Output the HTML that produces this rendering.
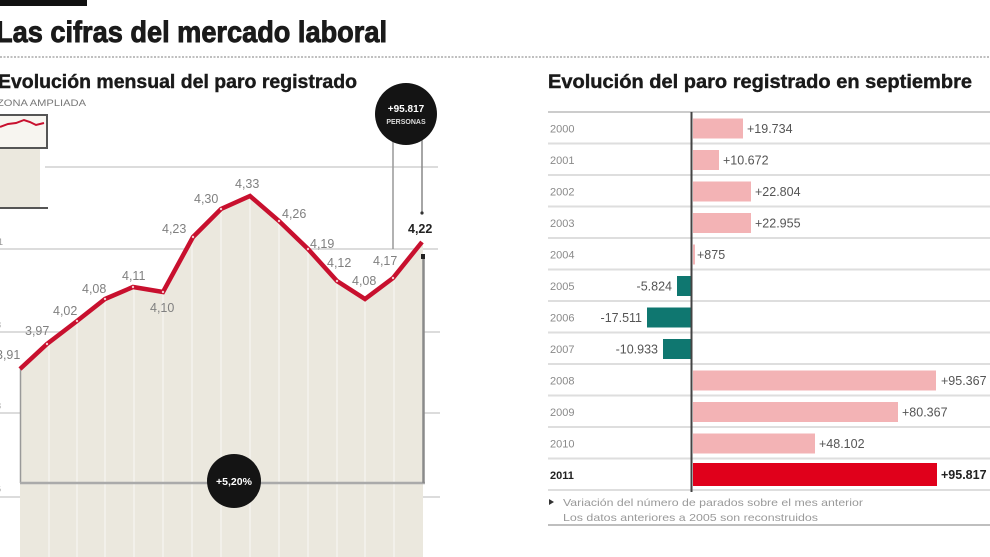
<!DOCTYPE html>
<html><head><meta charset="utf-8"><style>
html,body{margin:0;padding:0;background:#fff;}
svg{display:block;}
</style></head><body>
<svg width="990" height="557" viewBox="0 0 990 557" xmlns="http://www.w3.org/2000/svg" font-family="Liberation Sans, sans-serif">
<defs>
<clipPath id="fillclip"><polygon points="20,369 47,344 77,321 105,299 133,287 163,292 193,237 221,209 250,196 279,221 308,249 337,281 365,299 393,278 422,242 423,242 423,557 20,557"/></clipPath>
</defs>
<rect x="0" y="0" width="990" height="557" fill="#fff"/>
<rect x="0" y="0" width="87" height="6" fill="#111"/>
<text x="-4" y="42" font-size="30" font-weight="bold" fill="#1a1a1a" stroke="#1a1a1a" stroke-width="0.9" textLength="391" lengthAdjust="spacingAndGlyphs">Las cifras del mercado laboral</text>
<line x1="0" y1="57" x2="990" y2="57" stroke="#aaa" stroke-width="1.5" stroke-dasharray="2,1.5"/>
<text x="-2" y="88" font-size="19" font-weight="bold" fill="#1a1a1a" stroke="#1a1a1a" stroke-width="0.4" textLength="359" lengthAdjust="spacingAndGlyphs">Evolución mensual del paro registrado</text>
<text x="-3" y="106" font-size="9" fill="#777" textLength="89" lengthAdjust="spacingAndGlyphs">ZONA AMPLIADA</text>
<!-- inset -->
<rect x="0" y="148" width="40" height="59" fill="#ebe8de"/>
<rect x="-2" y="115" width="49" height="33" fill="#f7f5f0" stroke="#555" stroke-width="2"/>
<polyline points="0,127 8,124 16,123 24,120 30,122 36,125 44,123" fill="none" stroke="#c8102e" stroke-width="2"/>
<line x1="0" y1="208" x2="48" y2="208" stroke="#555" stroke-width="2"/>
<!-- gridlines -->
<g stroke="#dcdcdc" stroke-width="2">
<line x1="45" y1="167" x2="438" y2="167"/>
<line x1="0" y1="249" x2="438" y2="249"/>
<line x1="0" y1="332" x2="440" y2="332"/>
<line x1="0" y1="413" x2="440" y2="413"/>
<line x1="0" y1="497" x2="440" y2="497"/>
</g>
<g font-size="9" fill="#999">
<text x="-2" y="245">1</text>
<text x="-4" y="328">8</text>
<text x="-4" y="409">8</text>
<text x="-4" y="492">6</text>
</g>
<!-- fill -->
<polygon points="20,369 47,344 77,321 105,299 133,287 163,292 193,237 221,209 250,196 279,221 308,249 337,281 365,299 393,278 422,242 423,242 423,557 20,557" fill="#ebe8de"/>
<g clip-path="url(#fillclip)" stroke="#f5f3ed" stroke-width="1.5">
<line x1="49" y1="150" x2="49" y2="557"/>
<line x1="77" y1="150" x2="77" y2="557"/>
<line x1="105" y1="150" x2="105" y2="557"/>
<line x1="134" y1="150" x2="134" y2="557"/>
<line x1="163" y1="150" x2="163" y2="557"/>
<line x1="192" y1="150" x2="192" y2="557"/>
<line x1="221" y1="150" x2="221" y2="557"/>
<line x1="250" y1="150" x2="250" y2="557"/>
<line x1="279" y1="150" x2="279" y2="557"/>
<line x1="308" y1="150" x2="308" y2="557"/>
<line x1="337" y1="150" x2="337" y2="557"/>
<line x1="365" y1="150" x2="365" y2="557"/>
<line x1="394" y1="150" x2="394" y2="557"/>
</g>
<line x1="20.5" y1="369" x2="20.5" y2="483" stroke="#999" stroke-width="1.5"/>
<line x1="20" y1="483" x2="425" y2="483" stroke="#aaa" stroke-width="2.5"/>
<line x1="423.5" y1="255" x2="423.5" y2="483" stroke="#8a8a8a" stroke-width="2.5"/>
<rect x="421" y="254" width="4" height="5" fill="#222"/>
<!-- callout lines -->
<line x1="393" y1="140" x2="393" y2="249" stroke="#999" stroke-width="1.5"/>
<line x1="422" y1="140" x2="422" y2="212" stroke="#888" stroke-width="1.5"/>
<circle cx="422" cy="213" r="1.6" fill="#333"/>
<!-- red line -->
<polyline points="20,369 47,344 77,321 105,299 133,287 163,292 193,237 221,209 250,196 279,221 308,249 337,281 365,299 393,278 422,242" fill="none" stroke="#c8102e" stroke-width="4.5" stroke-linejoin="miter"/>
<g fill="#f5c9cf">
<circle cx="47" cy="344" r="1.2"/><circle cx="77" cy="321" r="1.2"/><circle cx="105" cy="299" r="1.2"/><circle cx="133" cy="287" r="1.2"/><circle cx="163" cy="292" r="1.2"/><circle cx="193" cy="237" r="1.2"/><circle cx="221" cy="209" r="1.2"/><circle cx="279" cy="221" r="1.2"/><circle cx="308" cy="249" r="1.2"/><circle cx="337" cy="281" r="1.2"/><circle cx="393" cy="278" r="1.2"/>
</g>
<!-- value labels -->
<g font-size="12.5" fill="#808080">
<text x="-4" y="359">3,91</text>
<text x="25" y="335">3,97</text>
<text x="53" y="315">4,02</text>
<text x="82" y="293">4,08</text>
<text x="122" y="280">4,11</text>
<text x="150" y="312">4,10</text>
<text x="162" y="233">4,23</text>
<text x="194" y="203">4,30</text>
<text x="235" y="188">4,33</text>
<text x="282" y="218">4,26</text>
<text x="310" y="248">4,19</text>
<text x="327" y="267">4,12</text>
<text x="352" y="285">4,08</text>
<text x="373" y="265">4,17</text>
</g>
<text x="408" y="233" font-size="12.5" font-weight="bold" fill="#222">4,22</text>
<!-- circles -->
<circle cx="406" cy="114" r="31" fill="#141414"/>
<text x="406" y="112" font-size="10" font-weight="bold" fill="#fff" text-anchor="middle">+95.817</text>
<text x="406" y="124" font-size="7" font-weight="bold" fill="#ddd" text-anchor="middle">PERSONAS</text>
<circle cx="234" cy="481" r="27" fill="#141414"/>
<text x="234" y="485" font-size="10.5" font-weight="bold" fill="#fff" text-anchor="middle">+5,20%</text>

<!-- RIGHT CHART -->
<text x="548" y="88" font-size="19" font-weight="bold" fill="#1a1a1a" stroke="#1a1a1a" stroke-width="0.4" textLength="424" lengthAdjust="spacingAndGlyphs">Evolución del paro registrado en septiembre</text>
<line x1="548" y1="112" x2="990" y2="112" stroke="#bbb" stroke-width="1.5"/>
<g stroke="#dedede" stroke-width="2">
<line x1="548" y1="143.5" x2="990" y2="143.5"/>
<line x1="548" y1="175" x2="990" y2="175"/>
<line x1="548" y1="206.5" x2="990" y2="206.5"/>
<line x1="548" y1="238" x2="990" y2="238"/>
<line x1="548" y1="269.5" x2="990" y2="269.5"/>
<line x1="548" y1="301" x2="990" y2="301"/>
<line x1="548" y1="332.5" x2="990" y2="332.5"/>
<line x1="548" y1="364" x2="990" y2="364"/>
<line x1="548" y1="395.5" x2="990" y2="395.5"/>
<line x1="548" y1="427" x2="990" y2="427"/>
<line x1="548" y1="458.5" x2="990" y2="458.5"/>
<line x1="548" y1="490" x2="990" y2="490"/>
</g>
<!-- bars -->
<g fill="#f3b3b5">
<rect x="693" y="118.5" width="50" height="20"/>
<rect x="693" y="150" width="26" height="20"/>
<rect x="693" y="181.5" width="58" height="20"/>
<rect x="693" y="213" width="58" height="20"/>
<rect x="693" y="244.5" width="2" height="20"/>
<rect x="693" y="370.5" width="243" height="20"/>
<rect x="693" y="402" width="205" height="20"/>
<rect x="693" y="433.5" width="122" height="20"/>
</g>
<g fill="#0f7770">
<rect x="677" y="276" width="14" height="20"/>
<rect x="647" y="307.5" width="44" height="20"/>
<rect x="663" y="339" width="28" height="20"/>
</g>
<rect x="693" y="463" width="244" height="23" fill="#e0001b"/>
<line x1="691.5" y1="112" x2="691.5" y2="492" stroke="#444" stroke-width="2"/>
<!-- year labels -->
<g font-size="11" fill="#8a8a8a">
<text x="550" y="132.5">2000</text>
<text x="550" y="164">2001</text>
<text x="550" y="195.5">2002</text>
<text x="550" y="227">2003</text>
<text x="550" y="258.5">2004</text>
<text x="550" y="290">2005</text>
<text x="550" y="321.5">2006</text>
<text x="550" y="353">2007</text>
<text x="550" y="384.5">2008</text>
<text x="550" y="416">2009</text>
<text x="550" y="447.5">2010</text>
</g>
<text x="550" y="479" font-size="11" font-weight="bold" fill="#222">2011</text>
<!-- value labels -->
<g font-size="12.5" fill="#555">
<text x="747" y="133">+19.734</text>
<text x="723" y="164.5">+10.672</text>
<text x="755" y="196">+22.804</text>
<text x="755" y="227.5">+22.955</text>
<text x="697" y="259">+875</text>
<text x="672" y="290.5" text-anchor="end">-5.824</text>
<text x="642" y="322" text-anchor="end">-17.511</text>
<text x="658" y="353.5" text-anchor="end">-10.933</text>
<text x="941" y="385">+95.367</text>
<text x="902" y="416.5">+80.367</text>
<text x="819" y="448">+48.102</text>
</g>
<text x="941" y="479" font-size="12.5" font-weight="bold" fill="#222">+95.817</text>
<!-- footer -->
<polygon points="549,499 554,502 549,505" fill="#333"/>
<text x="563" y="506" font-size="10.5" fill="#999" textLength="300" lengthAdjust="spacingAndGlyphs">Variación del número de parados sobre el mes anterior</text>
<text x="563" y="521" font-size="10.5" fill="#999" textLength="255" lengthAdjust="spacingAndGlyphs">Los datos anteriores a 2005 son reconstruidos</text>
<line x1="548" y1="525" x2="990" y2="525" stroke="#aaa" stroke-width="1.5"/>
</svg>
</body></html>
